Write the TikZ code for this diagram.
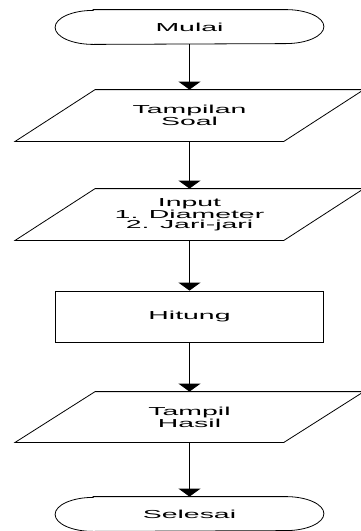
\documentclass[tikz,border=0pt]{standalone}
\usepackage{fontspec}
\newfontfamily\flowfont[FakeStretch=2.45]{Liberation Sans}
\usetikzlibrary{arrows.meta,calc}

\tikzset{
  base/.style={inner sep=0pt, minimum width=268pt, align=center,
    font=\flowfont\fontsize{11.6}{10}\selectfont},
  terminal/.style={base, minimum height=34pt},
  io/.style={base, minimum height=51pt},
  process/.style={base, draw, minimum height=51pt},
  flow/.style={-{Triangle[width=22pt,length=8pt]}},
}

\begin{document}
\begin{tikzpicture}[x=1pt, y=-1pt, line width=0.8pt]
  \useasboundingbox (0,0) rectangle (360,531);

  \node[terminal] (mulai)   at (189.5,27)    {Mulai};
  \node[io]       (soal)    at (189.5,115.5) {Tampilan\\Soal};
  \node[io]       (input)   at (189.5,214.5) {Input\\1. Diameter\\2. Jari-jari};
  \node[process]  (hitung)  at (189.5,316.5) {Hitung};
  \node[io, minimum height=50pt] (hasil) at (189.5,417) {Tampil\\Hasil};
  \node[terminal] (selesai) at (189.5,514)   {Selesai};

  % terminators with elliptical ends
  \foreach \n in {mulai,selesai}
    \draw ($(\n.north west)+(38pt,0)$) -- ($(\n.north east)+(-38pt,0)$)
      arc[start angle=90, end angle=-90, x radius=38pt, y radius=17pt]
      -- ($(\n.south west)+(38pt,0)$)
      arc[start angle=270, end angle=90, x radius=38pt, y radius=17pt]
      -- cycle;

  % input/output parallelograms
  \foreach \n in {soal,input,hasil}
    \draw ($(\n.north west)+(40pt,0)$) -- ($(\n.north east)+(40pt,0)$)
      -- ($(\n.south east)+(-40pt,0)$) -- ($(\n.south west)+(-40pt,0)$) -- cycle;

  \draw[flow] (mulai)  -- (soal);
  \draw[flow] (soal)   -- (input);
  \draw[flow] (input)  -- (hitung);
  \draw[flow] (hitung) -- (hasil);
  \draw[flow] (hasil)  -- (selesai);
\end{tikzpicture}
\end{document}
